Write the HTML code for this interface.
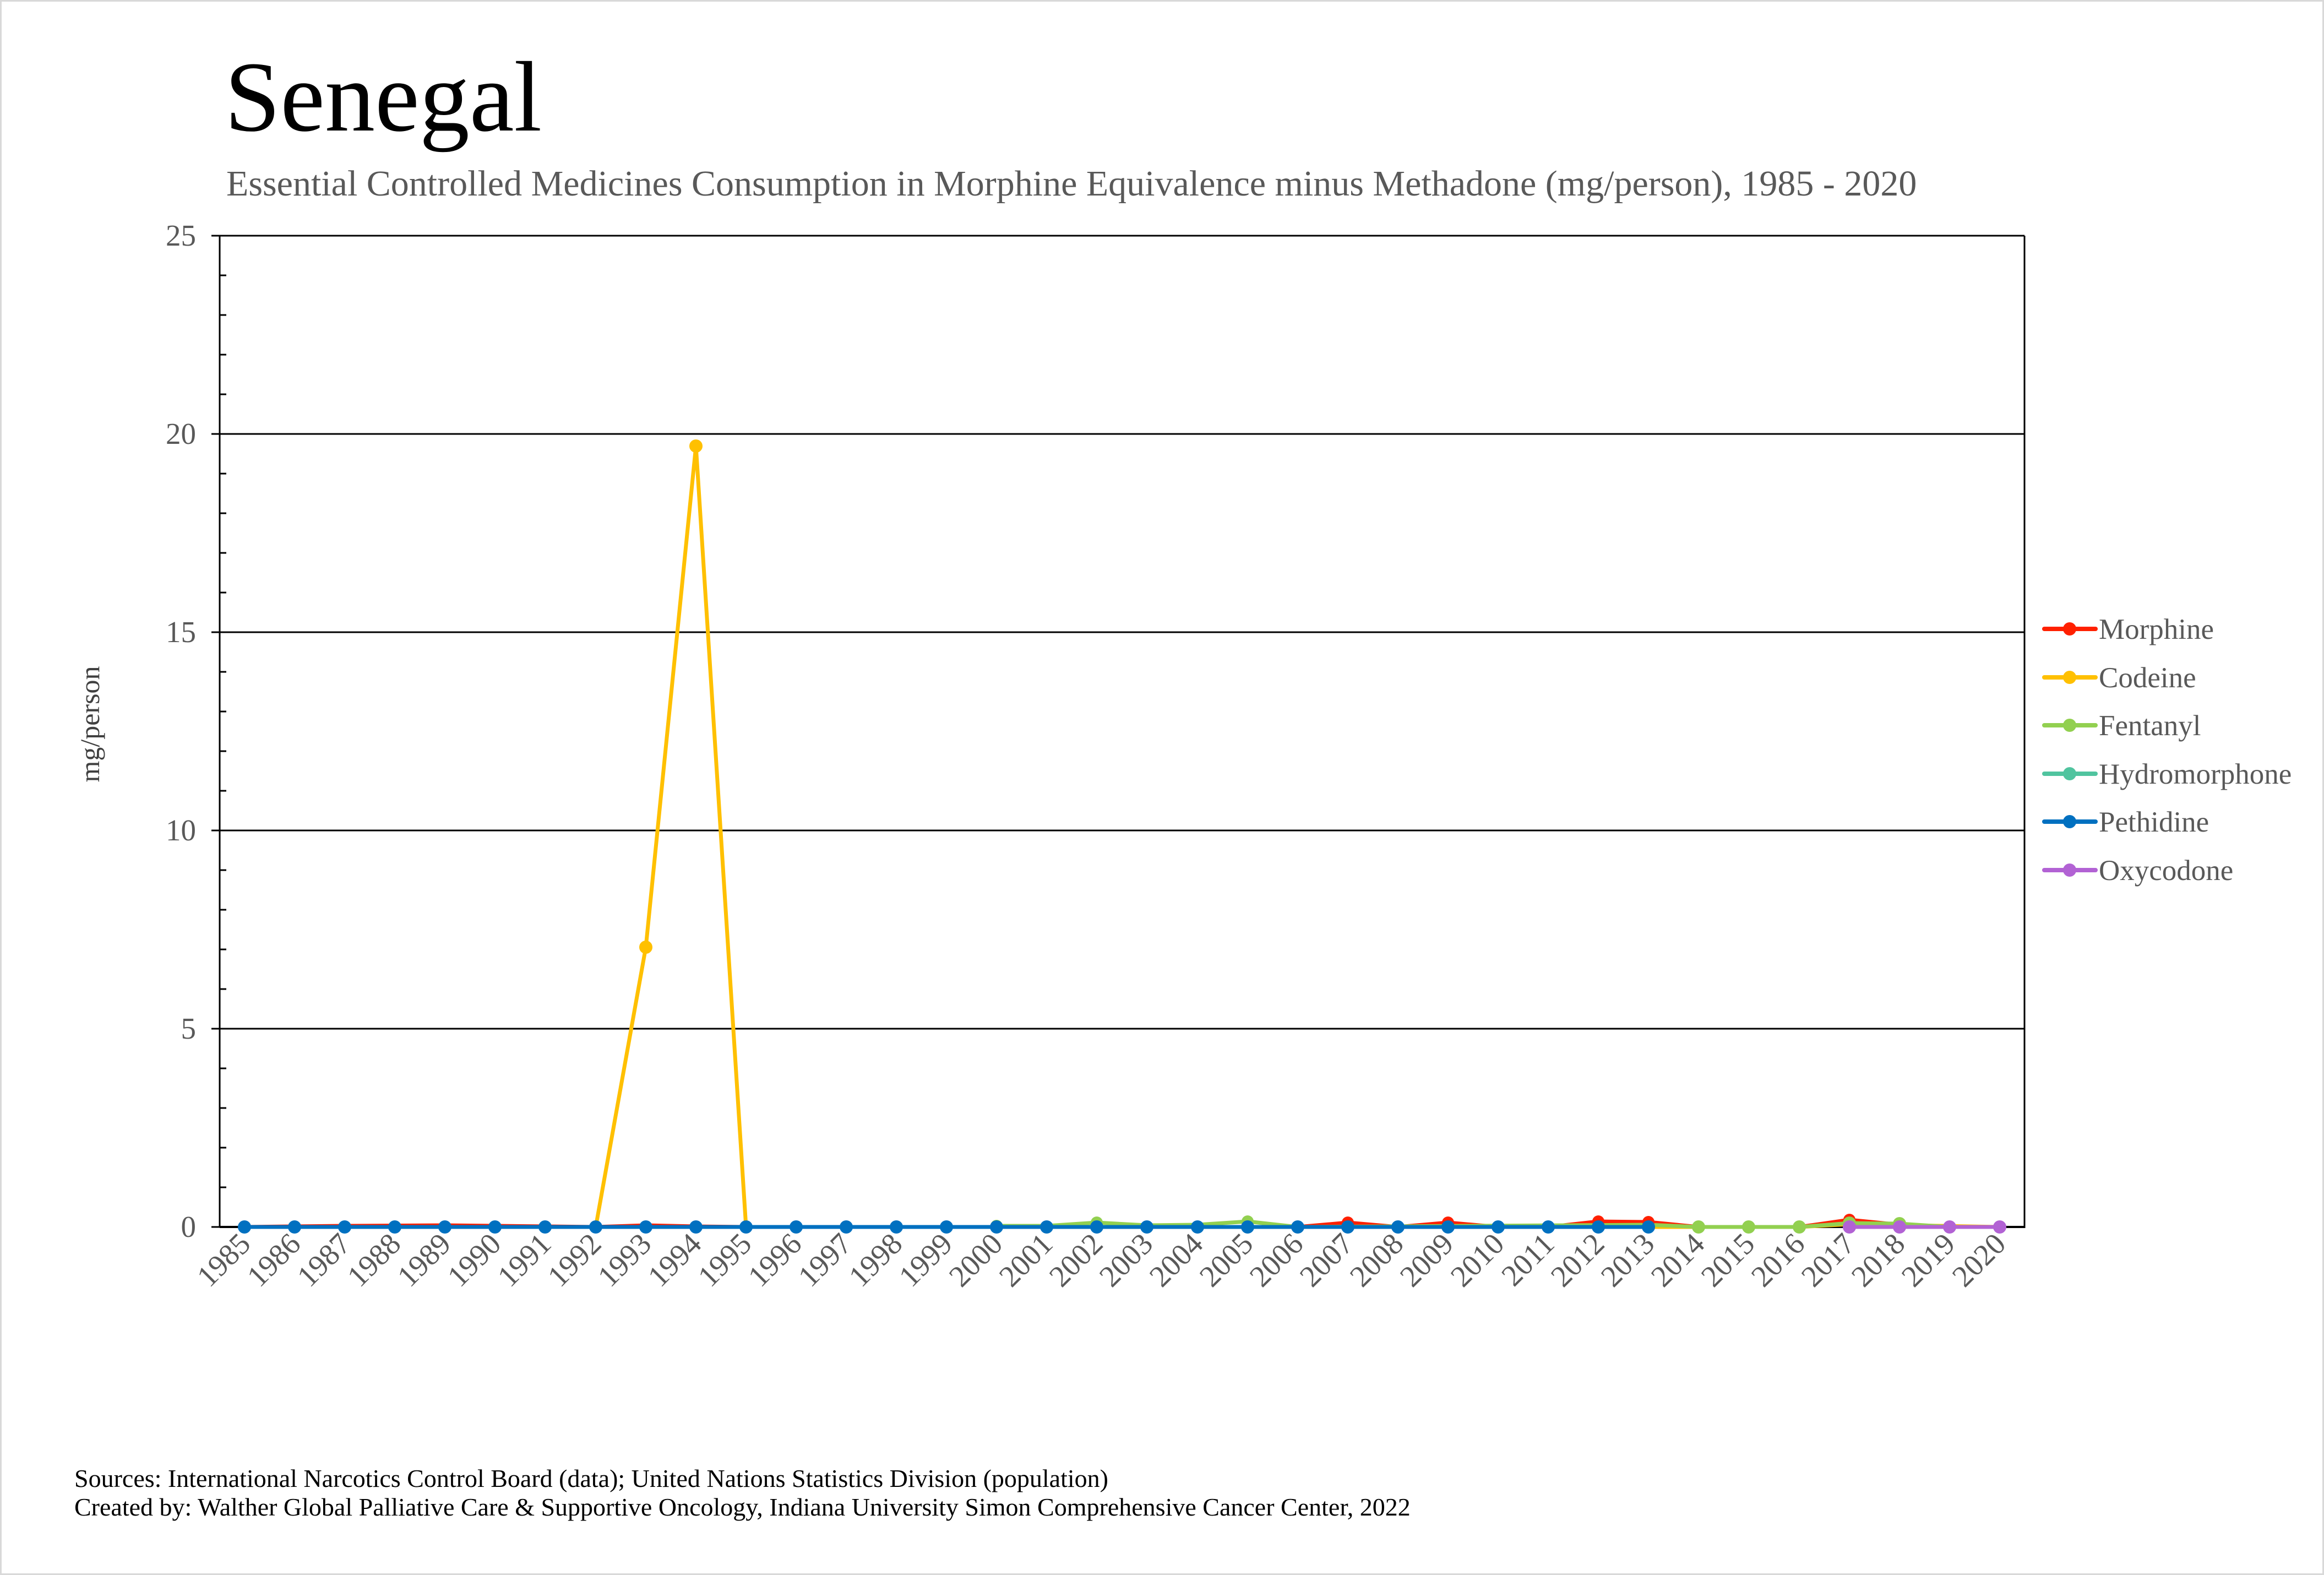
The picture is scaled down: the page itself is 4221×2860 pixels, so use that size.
<!DOCTYPE html>
<html><head><meta charset="utf-8"><style>
html,body{margin:0;padding:0;background:#fff}
svg{display:block}
</style></head><body>
<svg width="4221" height="2860" viewBox="0 0 4221 2860" xmlns="http://www.w3.org/2000/svg" font-family="Liberation Serif, serif">
<rect x="1.5" y="1.5" width="4218" height="2857" fill="#fff" stroke="#d9d9d9" stroke-width="3"/>
<text x="408" y="237" font-size="182" fill="#000">Senegal</text>
<text x="411" y="355" font-size="66" fill="#595959">Essential Controlled Medicines Consumption in Morphine Equivalence minus Methadone (mg/person), 1985 - 2020</text>
<!-- grid -->
<g stroke="#000" stroke-width="3">
<line x1="399" y1="428" x2="3677" y2="428"/>
<line x1="399" y1="788" x2="3677" y2="788"/>
<line x1="399" y1="1148" x2="3677" y2="1148"/>
<line x1="399" y1="1508" x2="3677" y2="1508"/>
<line x1="399" y1="1868" x2="3677" y2="1868"/>
<line x1="399" y1="2228" x2="3677" y2="2228" stroke-width="4"/>
<line x1="399" y1="428" x2="399" y2="2228"/>
<line x1="3677" y1="428" x2="3677" y2="2230"/>
<path d="M384 428H399M384 788H399M384 1148H399M384 1508H399M384 1868H399M384 2228H399"/>
<path d="M399 500H411M399 572H411M399 644H411M399 716H411M399 860H411M399 932H411M399 1004H411M399 1076H411M399 1220H411M399 1292H411M399 1364H411M399 1436H411M399 1580H411M399 1652H411M399 1724H411M399 1796H411M399 1940H411M399 2012H411M399 2084H411M399 2156H411"/>
</g>
<g font-size="55" fill="#595959" text-anchor="end">
<text x="356" y="446">25</text>
<text x="356" y="806">20</text>
<text x="356" y="1166">15</text>
<text x="356" y="1526">10</text>
<text x="356" y="1886">5</text>
<text x="356" y="2246">0</text>
</g>
<text transform="translate(180,1315) rotate(-90)" font-size="50" fill="#404040" text-anchor="middle">mg/person</text>
<g font-size="55" fill="#595959" text-anchor="end">
<text transform="translate(458,2262) rotate(-45)">1985</text>
<text transform="translate(549,2262) rotate(-45)">1986</text>
<text transform="translate(640,2262) rotate(-45)">1987</text>
<text transform="translate(731,2262) rotate(-45)">1988</text>
<text transform="translate(822,2262) rotate(-45)">1989</text>
<text transform="translate(913,2262) rotate(-45)">1990</text>
<text transform="translate(1004,2262) rotate(-45)">1991</text>
<text transform="translate(1095,2262) rotate(-45)">1992</text>
<text transform="translate(1186,2262) rotate(-45)">1993</text>
<text transform="translate(1277,2262) rotate(-45)">1994</text>
<text transform="translate(1368,2262) rotate(-45)">1995</text>
<text transform="translate(1459,2262) rotate(-45)">1996</text>
<text transform="translate(1550,2262) rotate(-45)">1997</text>
<text transform="translate(1642,2262) rotate(-45)">1998</text>
<text transform="translate(1733,2262) rotate(-45)">1999</text>
<text transform="translate(1824,2262) rotate(-45)">2000</text>
<text transform="translate(1915,2262) rotate(-45)">2001</text>
<text transform="translate(2006,2262) rotate(-45)">2002</text>
<text transform="translate(2097,2262) rotate(-45)">2003</text>
<text transform="translate(2188,2262) rotate(-45)">2004</text>
<text transform="translate(2279,2262) rotate(-45)">2005</text>
<text transform="translate(2370,2262) rotate(-45)">2006</text>
<text transform="translate(2461,2262) rotate(-45)">2007</text>
<text transform="translate(2552,2262) rotate(-45)">2008</text>
<text transform="translate(2643,2262) rotate(-45)">2009</text>
<text transform="translate(2735,2262) rotate(-45)">2010</text>
<text transform="translate(2826,2262) rotate(-45)">2011</text>
<text transform="translate(2917,2262) rotate(-45)">2012</text>
<text transform="translate(3008,2262) rotate(-45)">2013</text>
<text transform="translate(3099,2262) rotate(-45)">2014</text>
<text transform="translate(3190,2262) rotate(-45)">2015</text>
<text transform="translate(3281,2262) rotate(-45)">2016</text>
<text transform="translate(3372,2262) rotate(-45)">2017</text>
<text transform="translate(3463,2262) rotate(-45)">2018</text>
<text transform="translate(3554,2262) rotate(-45)">2019</text>
<text transform="translate(3646,2262) rotate(-45)">2020</text>
</g>
<g fill="none" stroke-width="7" stroke-linejoin="round">
<polyline stroke="#ffc000" points="444,2228 1082,2228 1173,1720 1264,810 1355,2228 3268,2228 3359,2223 3632,2228"/>
<polyline stroke="#ff2000" points="444,2228 626,2226 808,2225 899,2226 1082,2228 1173,2225 1264,2227 1355,2228 2357,2228 2448,2220 2539,2228 2630,2220 2721,2228 2812,2228 2903,2218 2994,2219 3085,2228 3268,2228 3359,2215 3450,2224 3541,2228 3632,2228"/>
<polyline stroke="#92d050" points="1810,2226 1901,2226 1992,2220 2083,2225 2175,2224 2266,2218 2357,2228 2994,2224 3085,2228 3268,2228 3359,2221 3450,2222 3541,2228"/>
<polyline stroke="#0070c0" points="444,2228 2994,2228"/>
<polyline stroke="#b262d4" points="3359,2228 3632,2228"/>
</g>
<g fill="#ffc000"><circle cx="1173" cy="1720" r="12"/><circle cx="1264" cy="810" r="12"/></g>
<g fill="#ff2000"><circle cx="2448" cy="2220" r="11"/><circle cx="2630" cy="2220" r="11"/><circle cx="2903" cy="2218" r="11"/><circle cx="2994" cy="2219" r="11"/><circle cx="3359" cy="2215" r="11"/></g>
<g fill="#92d050"><circle cx="1810" cy="2226" r="11"/><circle cx="1992" cy="2220" r="11"/><circle cx="2266" cy="2218" r="11"/><circle cx="3085" cy="2228" r="12"/><circle cx="3176" cy="2228" r="12"/><circle cx="3268" cy="2228" r="12"/><circle cx="3359" cy="2221" r="12"/><circle cx="3450" cy="2222" r="12"/></g>
<g fill="#0070c0">
<circle cx="444" cy="2228" r="12"/><circle cx="535" cy="2228" r="12"/><circle cx="626" cy="2228" r="12"/><circle cx="717" cy="2228" r="12"/><circle cx="808" cy="2228" r="12"/><circle cx="899" cy="2228" r="12"/><circle cx="990" cy="2228" r="12"/><circle cx="1082" cy="2228" r="12"/><circle cx="1173" cy="2228" r="12"/><circle cx="1264" cy="2228" r="12"/><circle cx="1355" cy="2228" r="12"/><circle cx="1446" cy="2228" r="12"/><circle cx="1537" cy="2228" r="12"/><circle cx="1628" cy="2228" r="12"/><circle cx="1719" cy="2228" r="12"/><circle cx="1810" cy="2228" r="12"/><circle cx="1901" cy="2228" r="12"/><circle cx="1992" cy="2228" r="12"/><circle cx="2083" cy="2228" r="12"/><circle cx="2175" cy="2228" r="12"/><circle cx="2266" cy="2228" r="12"/><circle cx="2357" cy="2228" r="12"/><circle cx="2448" cy="2228" r="12"/><circle cx="2539" cy="2228" r="12"/><circle cx="2630" cy="2228" r="12"/><circle cx="2721" cy="2228" r="12"/><circle cx="2812" cy="2228" r="12"/><circle cx="2903" cy="2228" r="12"/><circle cx="2994" cy="2228" r="12"/>
</g>
<g fill="#b262d4"><circle cx="3359" cy="2228" r="12"/><circle cx="3450" cy="2228" r="12"/><circle cx="3541" cy="2228" r="12"/><circle cx="3632" cy="2228" r="12"/></g>
<g stroke-width="8" stroke-linecap="round">
<line x1="3713" y1="1142" x2="3806" y2="1142" stroke="#ff2000"/>
<line x1="3713" y1="1230" x2="3806" y2="1230" stroke="#ffc000"/>
<line x1="3713" y1="1317" x2="3806" y2="1317" stroke="#92d050"/>
<line x1="3713" y1="1405" x2="3806" y2="1405" stroke="#50c49f"/>
<line x1="3713" y1="1492" x2="3806" y2="1492" stroke="#0070c0"/>
<line x1="3713" y1="1580" x2="3806" y2="1580" stroke="#b262d4"/>
</g>
<circle cx="3759" cy="1142" r="12" fill="#ff2000"/>
<circle cx="3759" cy="1230" r="12" fill="#ffc000"/>
<circle cx="3759" cy="1317" r="12" fill="#92d050"/>
<circle cx="3759" cy="1405" r="12" fill="#50c49f"/>
<circle cx="3759" cy="1492" r="12" fill="#0070c0"/>
<circle cx="3759" cy="1580" r="12" fill="#b262d4"/>
<g font-size="53" fill="#595959">
<text x="3812" y="1160">Morphine</text>
<text x="3812" y="1248">Codeine</text>
<text x="3812" y="1335">Fentanyl</text>
<text x="3812" y="1423">Hydromorphone</text>
<text x="3812" y="1510">Pethidine</text>
<text x="3812" y="1598">Oxycodone</text>
</g>
<g font-size="46" fill="#000">
<text x="135" y="2700">Sources: International Narcotics Control Board (data); United Nations Statistics Division (population)</text>
<text x="135" y="2752">Created by: Walther Global Palliative Care &amp; Supportive Oncology, Indiana University Simon Comprehensive Cancer Center, 2022</text>
</g>
</svg>
</body></html>
